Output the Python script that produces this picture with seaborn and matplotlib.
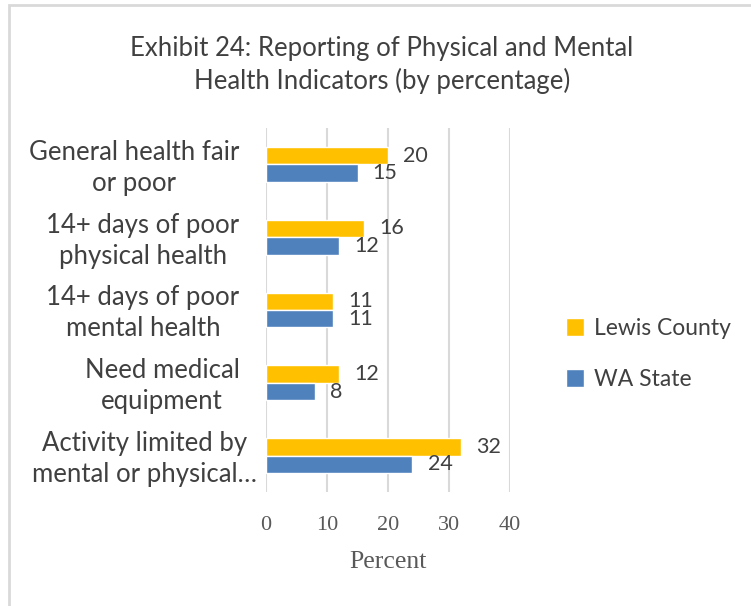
import pandas as pd
import matplotlib.pyplot as plt
import matplotlib.transforms as mtransforms
import seaborn as sns
from matplotlib.patches import Rectangle

# --- data ---
categories = [
    "General health fair\nor poor",
    "14+ days of poor\nphysical health",
    "14+ days of poor\nmental health",
    "Need medical\nequipment",
    "Activity limited by\nmental or physical…",
]
lewis_county = [20, 16, 11, 12, 32]
wa_state = [15, 12, 11, 8, 24]
series = ["Lewis County", "WA State"]
colors = ["#FFC000", "#4F81BD"]

df = pd.DataFrame({
    "Indicator": categories * 2,
    "Value": lewis_county + wa_state,
    "Group": [series[0]] * len(categories) + [series[1]] * len(categories),
})

sns.set_style("white")
plt.rcParams["font.family"] = ["Lato", "DejaVu Sans"]

fig = plt.figure(figsize=(7.51, 6.06), dpi=100)
ax = fig.add_axes([266 / 751, 1 - 492 / 606, (510 - 266) / 751, (492 - 128) / 606])

sns.barplot(data=df, y="Indicator", x="Value", hue="Group", hue_order=series,
            palette=colors, orient="h", width=0.48, saturation=1,
            ax=ax, legend=True)

# value labels
for cont in ax.containers:
    ax.bar_label(cont, padding=11, fontsize=15.5, color="#404040")

ax.set_xlim(0, 40)
ax.set_xticks([0, 10, 20, 30, 40])
ax.xaxis.grid(True, color="#D9D9D9", linewidth=1.5)
ax.yaxis.grid(False)
ax.set_axisbelow(True)
for s in ax.spines.values():
    s.set_visible(False)

ax.tick_params(axis="x", length=0, pad=17, labelsize=16, labelcolor="#595959")
for lab in ax.get_xticklabels():
    lab.set_fontfamily(["Liberation Serif"])
ax.tick_params(axis="y", length=0, pad=19, labelsize=18.5, labelcolor="#404040")
for lab in ax.get_yticklabels():
    lab.set_multialignment("center")
    lab.set_linespacing(1.3)
    lab.set_transform(lab.get_transform() +
                      mtransforms.ScaledTranslation(0, 2 / 100, fig.dpi_scale_trans))
# the long last label sits further right, as in the original
last = ax.get_yticklabels()[-1]
last.set_transform(last.get_transform() +
                   mtransforms.ScaledTranslation(17 / 100, 0, fig.dpi_scale_trans))

ax.set_ylabel("")
ax.set_xlabel("Percent", fontsize=18.5, color="#595959",
              fontfamily=["Liberation Serif"], labelpad=12)

leg = ax.legend(loc="center left", bbox_to_anchor=(566 / 751, 1 - 354 / 606),
                bbox_transform=fig.transFigure, frameon=False, borderpad=0,
                borderaxespad=0, fontsize=16.5, handlelength=0.8, handleheight=0.8,
                handletextpad=0.4, labelspacing=1.3)
for t in leg.get_texts():
    t.set_color("#404040")

fig.text(382 / 751, 1 - 65 / 606, "Exhibit 24: Reporting of Physical and Mental\nHealth Indicators (by percentage)",
         ha="center", va="center", fontsize=18.5, color="#404040", linespacing=1.28)

# chart border
fig.patches.append(Rectangle((8.5 / 751, -0.1), 1.2, 1 - 4.5 / 606 + 0.1,
                             transform=fig.transFigure, fill=False,
                             edgecolor="#D9D9D9", linewidth=2))

fig.savefig("out.png", dpi=100, facecolor="white")
